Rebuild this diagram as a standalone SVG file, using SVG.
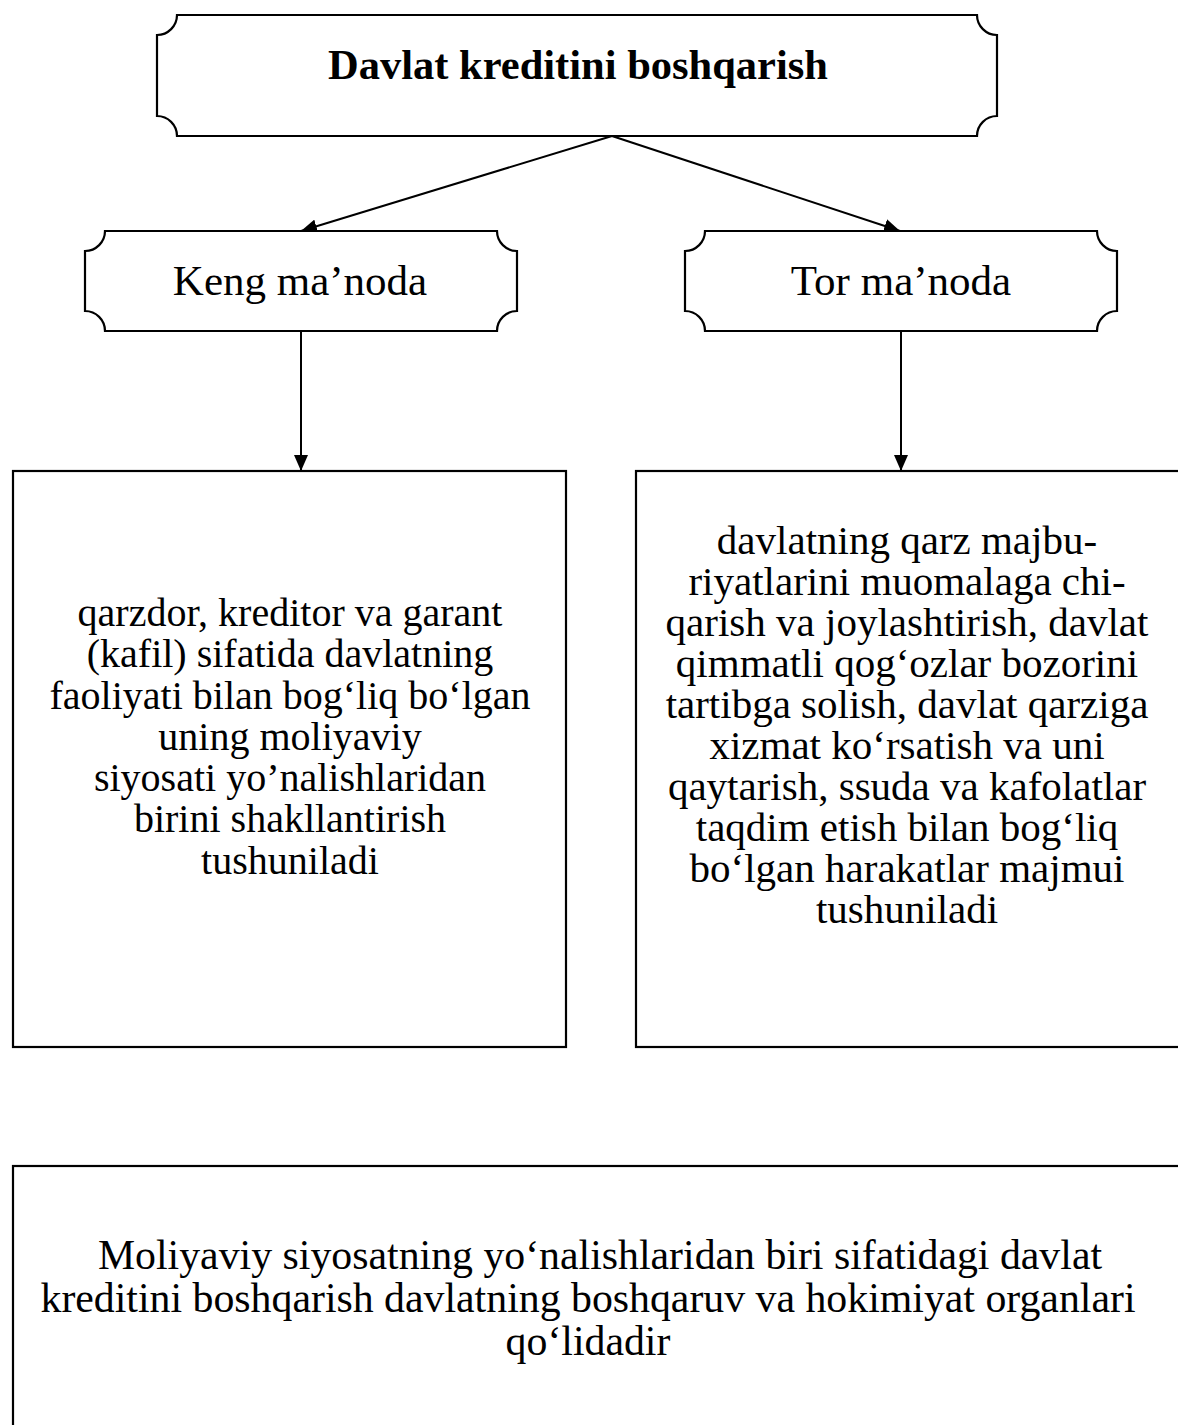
<svg xmlns="http://www.w3.org/2000/svg" width="1178" height="1425" viewBox="0 0 1178 1425">
<style>
.shape{fill:#fff;stroke:#000;stroke-width:2.2}
.t{font-family:"Liberation Serif","Times New Roman",serif;font-size:41px;fill:#000;text-anchor:middle}
.b{font-weight:bold;font-size:42.5px}
.p{font-size:43px}
.l{font-size:40px}
.w{font-size:41.8px}
.c{stroke:#000;stroke-width:2;fill:none}
</style>
<defs>
<marker id="ah" viewBox="0 0 16 14" refX="16" refY="7" markerWidth="16" markerHeight="14" markerUnits="userSpaceOnUse" orient="auto">
<path d="M0,0 L16,7 L0,14 z" fill="#000"/>
</marker>
</defs>
<rect width="1178" height="1425" fill="#fff"/>
<g id="connectors">
<line class="c" x1="612" y1="136" x2="301" y2="231" marker-end="url(#ah)"/>
<line class="c" x1="612" y1="136" x2="900" y2="231" marker-end="url(#ah)"/>
<line class="c" x1="301" y1="331" x2="301" y2="471" marker-end="url(#ah)"/>
<line class="c" x1="901" y1="331" x2="901" y2="471" marker-end="url(#ah)"/>
</g>
<g id="node-title">
<path class="shape" d="M177,15 H977 A20,20 0 0 0 997,35 V116 A20,20 0 0 0 977,136 H177 A20,20 0 0 0 157,116 V35 A20,20 0 0 0 177,15 Z"/>
<text class="t b" x="578" y="79">Davlat kreditini boshqarish</text>
</g>
<g id="node-keng">
<path class="shape" d="M105,231 H497 A20,20 0 0 0 517,251 V311 A20,20 0 0 0 497,331 H105 A20,20 0 0 0 85,311 V251 A20,20 0 0 0 105,231 Z"/>
<text class="t p" x="300" y="295">Keng ma’noda</text>
</g>
<g id="node-tor">
<path class="shape" d="M705,231 H1097 A20,20 0 0 0 1117,251 V311 A20,20 0 0 0 1097,331 H705 A20,20 0 0 0 685,311 V251 A20,20 0 0 0 705,231 Z"/>
<text class="t p" x="901" y="295">Tor ma’noda</text>
</g>
<g id="node-left">
<rect class="shape" x="13" y="471" width="553" height="576"/>
<text class="t l" x="290" y="626">qarzdor, kreditor va garant</text>
<text class="t l" x="290" y="667">(kafil) sifatida davlatning</text>
<text class="t l" x="290" y="709">faoliyati bilan bog‘liq bo‘lgan</text>
<text class="t l" x="290" y="750">uning moliyaviy</text>
<text class="t l" x="290" y="791">siyosati yo’nalishlaridan</text>
<text class="t l" x="290" y="832">birini shakllantirish</text>
<text class="t l" x="290" y="874">tushuniladi</text>
</g>
<g id="node-right">
<rect class="shape" x="636" y="471" width="600" height="576"/>
<text class="t" x="907" y="554">davlatning qarz majbu-</text>
<text class="t" x="907" y="595">riyatlarini muomalaga chi-</text>
<text class="t" x="907" y="636">qarish va joylashtirish, davlat</text>
<text class="t" x="907" y="677">qimmatli qog‘ozlar bozorini</text>
<text class="t" x="907" y="718">tartibga solish, davlat qarziga</text>
<text class="t" x="907" y="759">xizmat ko‘rsatish va uni</text>
<text class="t" x="907" y="800">qaytarish, ssuda va kafolatlar</text>
<text class="t" x="907" y="841">taqdim etish bilan bog‘liq</text>
<text class="t" x="907" y="882">bo‘lgan harakatlar majmui</text>
<text class="t" x="907" y="923">tushuniladi</text>
</g>
<g id="node-bottom">
<rect class="shape" x="13" y="1166" width="1250" height="300"/>
<text class="t w" x="600" y="1269">Moliyaviy siyosatning yo‘nalishlaridan biri sifatidagi davlat</text>
<text class="t w" x="588" y="1312">kreditini boshqarish davlatning boshqaruv va hokimiyat organlari</text>
<text class="t w" x="588" y="1355">qo‘lidadir</text>
</g>
</svg>
